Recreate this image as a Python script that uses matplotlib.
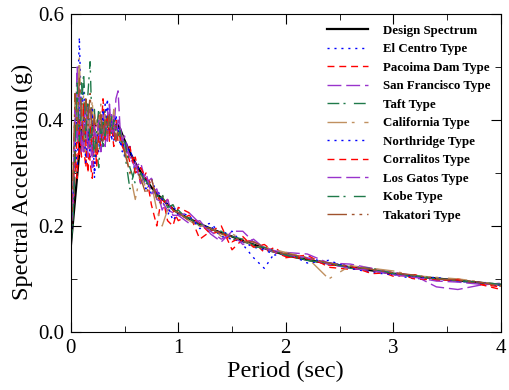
import numpy as np
import matplotlib.pyplot as plt
from matplotlib import font_manager
from matplotlib.ticker import MultipleLocator, FormatStrFormatter

# make sure a Times-like serif is registered
for f in font_manager.findSystemFonts():
    if 'LiberationSerif' in f.replace(' ', '') or 'Liberation Serif' in f:
        font_manager.fontManager.addfont(f)
names = sorted(set(f.name for f in font_manager.fontManager.ttflist))
serif = [n for n in ['Liberation Serif', 'Times New Roman', 'Nimbus Roman', 'DejaVu Serif'] if n in names]
plt.rcParams['font.family'] = serif + ['DejaVu Sans']

# periods (sec), shared by all spectra
T = [0.00, 0.02, 0.04, 0.06, 0.08, 0.10, 0.12, 0.14, 0.16, 0.18, 0.20, 0.22, 0.24,
     0.26, 0.28, 0.30, 0.32, 0.34, 0.36, 0.38, 0.40, 0.42, 0.44, 0.46, 0.48, 0.50,
     0.55, 0.60, 0.65, 0.70, 0.75, 0.80, 0.85, 0.90, 0.95, 1.00,
     1.1, 1.2, 1.3, 1.4, 1.5, 1.6, 1.7, 1.8, 1.9, 2.0,
     2.2, 2.4, 2.6, 2.8, 3.0, 3.2, 3.4, 3.6, 3.8, 4.0]

design = [0.160, 0.205, 0.250, 0.295, 0.340, 0.385, 0.390, 0.390, 0.390, 0.390, 0.390, 0.390, 0.390,
          0.390, 0.390, 0.390, 0.390, 0.390, 0.390, 0.390, 0.390, 0.390, 0.390, 0.383, 0.372, 0.362,
          0.339, 0.319, 0.302, 0.287, 0.273, 0.261, 0.251, 0.241, 0.232, 0.224,
          0.214, 0.204, 0.195, 0.187, 0.180, 0.172, 0.165, 0.158, 0.151, 0.145,
          0.136, 0.129, 0.122, 0.116, 0.110, 0.105, 0.101, 0.097, 0.093, 0.089]

el_centro = [0.17, 0.24, 0.33, 0.42, 0.556, 0.40, 0.47, 0.36, 0.43, 0.33, 0.41, 0.30, 0.37,
             0.34, 0.40, 0.36, 0.43, 0.38, 0.42, 0.36, 0.40, 0.37, 0.39, 0.35, 0.37, 0.33,
             0.35, 0.30, 0.31, 0.27, 0.29, 0.26, 0.25, 0.22, 0.24, 0.22,
             0.215, 0.20, 0.205, 0.185, 0.19, 0.165, 0.14, 0.12, 0.15, 0.145,
             0.14, 0.13, 0.125, 0.118, 0.108, 0.10, 0.103, 0.095, 0.092, 0.087]

pacoima = [0.19, 0.22, 0.30, 0.38, 0.33, 0.41, 0.35, 0.31, 0.38, 0.32, 0.29, 0.36, 0.33,
           0.41, 0.37, 0.44, 0.38, 0.40, 0.36, 0.41, 0.38, 0.40, 0.37, 0.38, 0.35, 0.36,
           0.32, 0.33, 0.28, 0.30, 0.24, 0.20, 0.26, 0.21, 0.20, 0.235,
           0.225, 0.175, 0.19, 0.20, 0.155, 0.175, 0.17, 0.15, 0.16, 0.14,
           0.145, 0.122, 0.118, 0.12, 0.105, 0.108, 0.097, 0.10, 0.09, 0.08]

san_francisco = [0.18, 0.26, 0.38, 0.50, 0.36, 0.44, 0.34, 0.40, 0.35, 0.42, 0.33, 0.38, 0.35,
                 0.39, 0.36, 0.41, 0.35, 0.42, 0.38, 0.41, 0.37, 0.44, 0.455, 0.38, 0.36, 0.37,
                 0.33, 0.31, 0.32, 0.28, 0.29, 0.25, 0.245, 0.23, 0.225, 0.22,
                 0.205, 0.21, 0.185, 0.17, 0.19, 0.19, 0.17, 0.16, 0.153, 0.15,
                 0.147, 0.13, 0.128, 0.12, 0.112, 0.106, 0.085, 0.08, 0.088, 0.092]

taft = [0.16, 0.21, 0.32, 0.45, 0.38, 0.47, 0.40, 0.36, 0.45, 0.51, 0.37, 0.42, 0.35,
        0.31, 0.38, 0.35, 0.42, 0.39, 0.37, 0.41, 0.39, 0.38, 0.40, 0.36, 0.37, 0.34,
        0.27, 0.31, 0.29, 0.285, 0.27, 0.25, 0.255, 0.24, 0.225, 0.23,
        0.21, 0.205, 0.19, 0.19, 0.175, 0.17, 0.165, 0.155, 0.15, 0.148,
        0.135, 0.13, 0.12, 0.118, 0.11, 0.104, 0.10, 0.096, 0.093, 0.09]

california = [0.20, 0.30, 0.44, 0.40, 0.52, 0.38, 0.45, 0.33, 0.42, 0.36, 0.44, 0.34, 0.40,
              0.36, 0.43, 0.37, 0.41, 0.36, 0.40, 0.38, 0.42, 0.37, 0.38, 0.36, 0.37, 0.35,
              0.30, 0.25, 0.30, 0.27, 0.28, 0.23, 0.20, 0.23, 0.24, 0.225,
              0.21, 0.20, 0.20, 0.18, 0.185, 0.175, 0.16, 0.16, 0.155, 0.15,
              0.14, 0.10, 0.125, 0.12, 0.115, 0.106, 0.103, 0.10, 0.095, 0.088]

northridge = [0.22, 0.25, 0.36, 0.31, 0.44, 0.35, 0.40, 0.32, 0.38, 0.34, 0.42, 0.29, 0.36,
              0.39, 0.34, 0.42, 0.37, 0.44, 0.38, 0.40, 0.36, 0.41, 0.38, 0.37, 0.34, 0.36,
              0.34, 0.32, 0.30, 0.29, 0.26, 0.27, 0.25, 0.24, 0.21, 0.225,
              0.22, 0.195, 0.20, 0.18, 0.175, 0.17, 0.16, 0.155, 0.145, 0.15,
              0.13, 0.135, 0.12, 0.112, 0.108, 0.105, 0.10, 0.095, 0.094, 0.088]

corralitos = [0.18, 0.26, 0.34, 0.29, 0.40, 0.33, 0.43, 0.36, 0.30, 0.39, 0.34, 0.40, 0.31,
              0.37, 0.35, 0.39, 0.36, 0.41, 0.37, 0.39, 0.35, 0.39, 0.36, 0.37, 0.35, 0.34,
              0.35, 0.30, 0.31, 0.29, 0.28, 0.26, 0.24, 0.25, 0.23, 0.21,
              0.22, 0.205, 0.185, 0.19, 0.17, 0.18, 0.16, 0.165, 0.15, 0.142,
              0.138, 0.126, 0.124, 0.11, 0.112, 0.10, 0.098, 0.098, 0.09, 0.085]

los_gatos = [0.20, 0.23, 0.42, 0.36, 0.46, 0.34, 0.39, 0.43, 0.33, 0.37, 0.31, 0.39, 0.36,
             0.40, 0.34, 0.37, 0.40, 0.36, 0.43, 0.37, 0.41, 0.36, 0.40, 0.39, 0.36, 0.35,
             0.33, 0.32, 0.28, 0.30, 0.26, 0.27, 0.23, 0.25, 0.22, 0.22,
             0.225, 0.205, 0.19, 0.175, 0.185, 0.165, 0.175, 0.158, 0.15, 0.145,
             0.14, 0.128, 0.12, 0.116, 0.108, 0.103, 0.096, 0.094, 0.09, 0.091]

kobe = [0.17, 0.20, 0.35, 0.47, 0.36, 0.42, 0.49, 0.38, 0.43, 0.35, 0.39, 0.33, 0.38,
        0.42, 0.36, 0.40, 0.37, 0.41, 0.40, 0.37, 0.40, 0.39, 0.37, 0.38, 0.35, 0.36,
        0.31, 0.28, 0.30, 0.28, 0.28, 0.255, 0.26, 0.235, 0.24, 0.22,
        0.215, 0.20, 0.195, 0.185, 0.18, 0.175, 0.16, 0.16, 0.152, 0.145,
        0.135, 0.13, 0.121, 0.12, 0.11, 0.106, 0.101, 0.097, 0.093, 0.09]

takatori = [0.21, 0.28, 0.45, 0.38, 0.48, 0.41, 0.36, 0.44, 0.39, 0.45, 0.37, 0.41, 0.34,
            0.38, 0.41, 0.36, 0.40, 0.37, 0.41, 0.38, 0.39, 0.36, 0.38, 0.37, 0.36, 0.34,
            0.30, 0.31, 0.29, 0.26, 0.29, 0.25, 0.24, 0.24, 0.23, 0.225,
            0.21, 0.20, 0.195, 0.185, 0.18, 0.17, 0.17, 0.16, 0.15, 0.148,
            0.14, 0.13, 0.124, 0.118, 0.112, 0.107, 0.10, 0.098, 0.094, 0.086]

records = [(el_centro, 'El Centro Type', '#0000ff', (1.5, 3.5)),
           (pacoima, 'Pacoima Dam Type', '#ff0000', (5, 3.5)),
           (san_francisco, 'San Francisco Type', '#9933cc', (10, 3.5)),
           (taft, 'Taft Type', '#1f7a4a', (8.5, 3, 1.5, 6)),
           (california, 'California Type', '#c09060', (14, 3.5, 2, 7)),
           (northridge, 'Northridge Type', '#0000ff', (1.5, 3.5)),
           (corralitos, 'Corralitos Type', '#ff0000', (5, 3.5)),
           (los_gatos, 'Los Gatos Type', '#9933cc', (10, 3.5)),
           (kobe, 'Kobe Type', '#1f7a4a', (8.5, 3, 1.5, 6)),
           (takatori, 'Takatori Type', '#a0522d', (14, 3.5, 2, 3.5, 2, 3.5))]

fig = plt.figure(figsize=(5.09, 3.90), dpi=100)
ax = fig.add_axes([0.139, 0.149, 0.845, 0.815])

handles = []
h, = ax.plot(T, design, color='black', lw=1.6, label='Design Spectrum')
handles.append(h)
for vals, name, col, dash in records:
    h, = ax.plot(T, vals, color=col, lw=1.0, dashes=dash, label=name)
    handles.append(h)

ax.set_xlim(0, 4)
ax.set_ylim(0, 0.6)
ax.xaxis.set_major_locator(MultipleLocator(1))
ax.xaxis.set_minor_locator(MultipleLocator(0.5))
ax.yaxis.set_major_locator(MultipleLocator(0.2))
ax.yaxis.set_minor_locator(MultipleLocator(0.1))
ax.yaxis.set_major_formatter(FormatStrFormatter('%.1f'))
ax.tick_params(which='both', direction='in', top=True, right=True, labelsize=15, pad=5)
ax.tick_params(which='major', length=7)
ax.tick_params(which='minor', length=4)
ax.set_xlabel('Period (sec)', fontsize=17.5, labelpad=2)
ax.set_ylabel('Spectral Acceleraion (g)', fontsize=17.5)
ax.yaxis.set_label_coords(-0.088, 0.472)

ax.legend(handles=handles, loc='upper left', bbox_to_anchor=(0.596, 0.966), frameon=False,
          prop={'weight': 'bold', 'size': 9.3}, borderpad=0, borderaxespad=0,
          handlelength=3.2, handletextpad=1.1, labelspacing=0.5)

fig.savefig('out.png', dpi=100)
